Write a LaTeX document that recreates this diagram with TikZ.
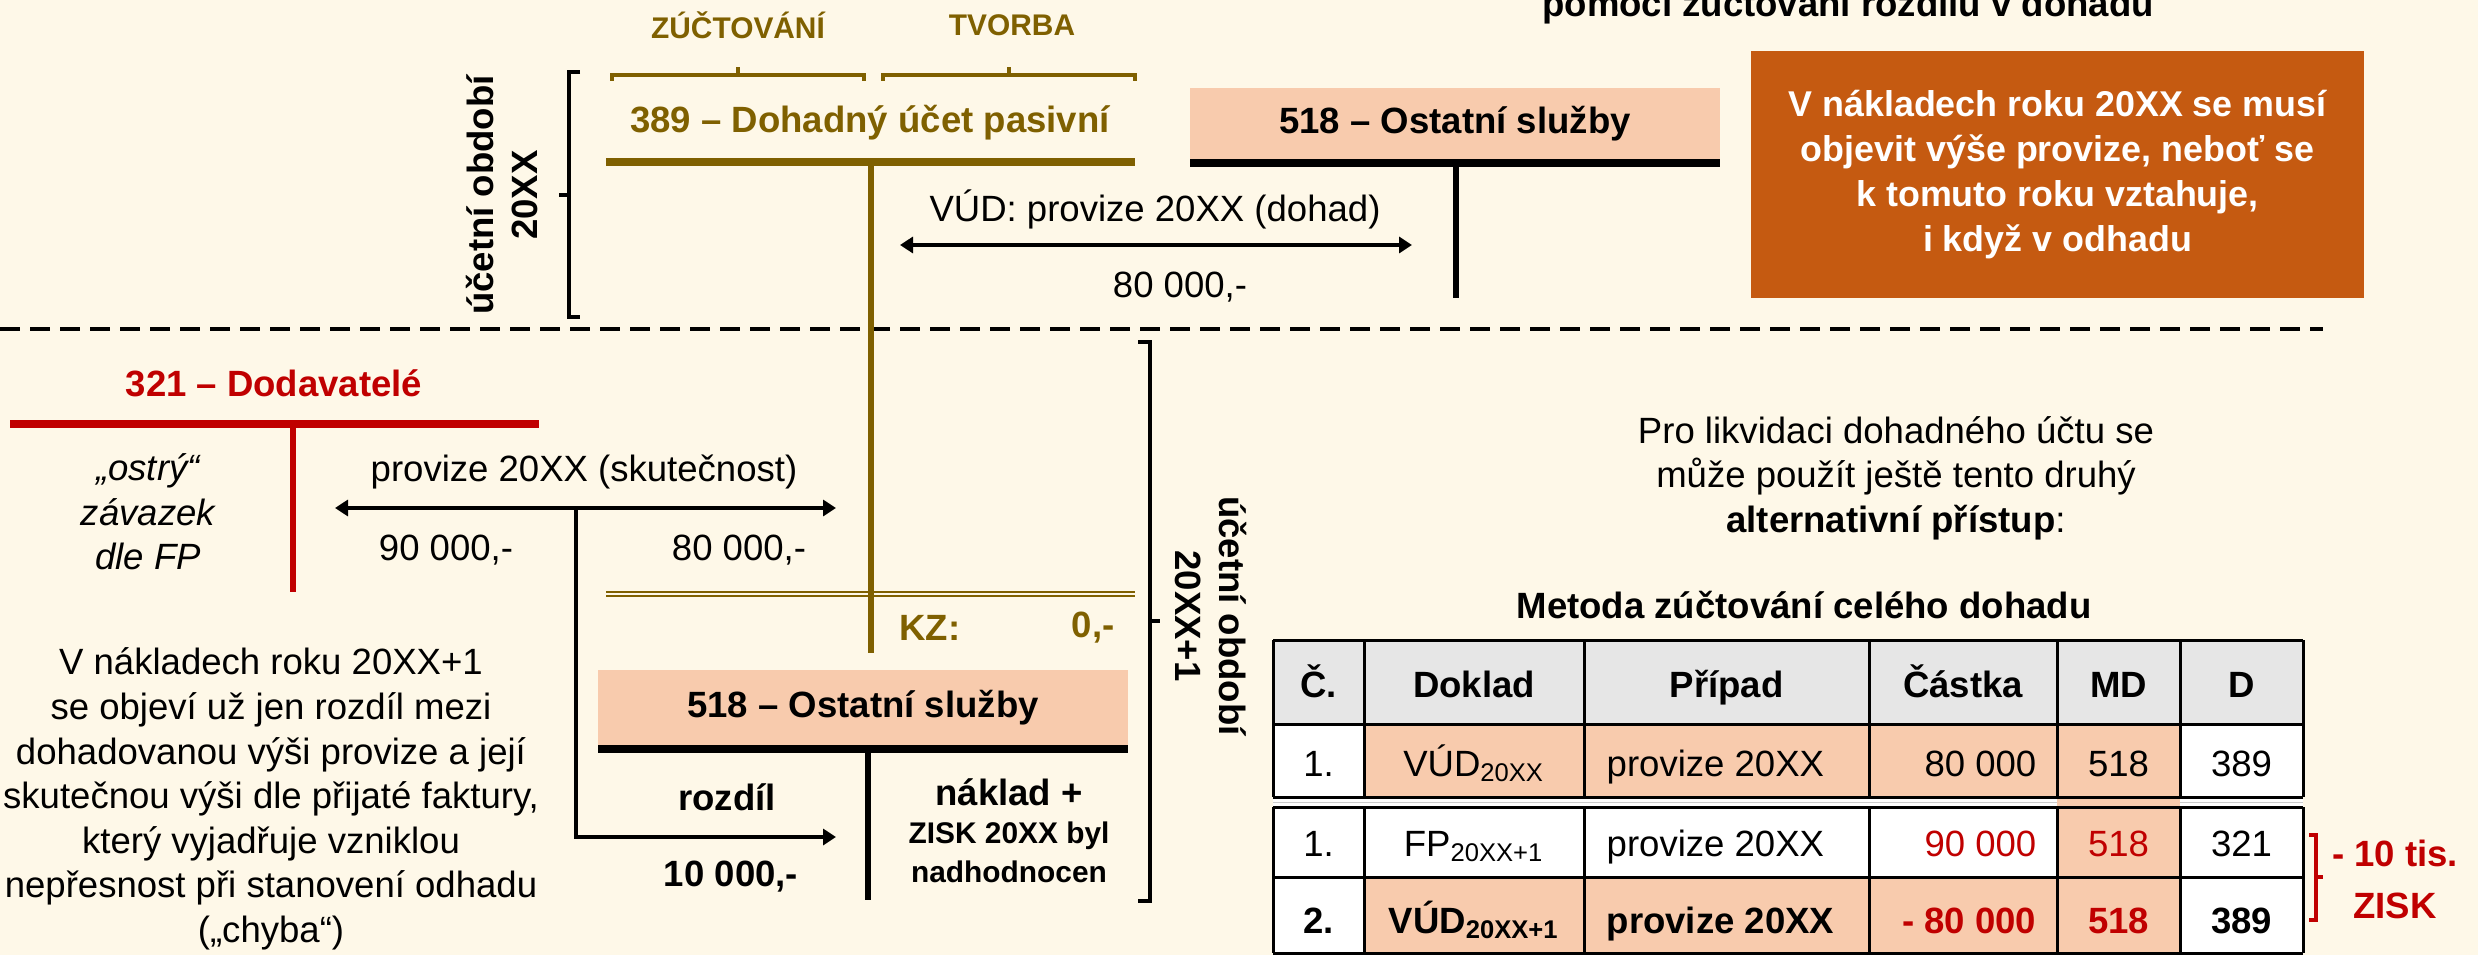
\documentclass[tikz,border=0pt]{standalone}
\usepackage{fontspec}
\setmainfont{Liberation Sans}
\usetikzlibrary{arrows.meta}

\definecolor{cream}{HTML}{FEF8E8}
\definecolor{olive}{HTML}{7F6000}
\definecolor{accred}{HTML}{C00000}
\definecolor{peach}{HTML}{F8CBAD}
\definecolor{rust}{HTML}{C55A11}
\definecolor{hdgray}{HTML}{E6E6E6}

\tikzset{
  txt/.style={inner sep=0pt, align=center, font=\fontsize{10.4}{12.7}\selectfont},
  btxt/.style={inner sep=0pt, align=center, font=\fontsize{10.4}{12.7}\selectfont\bfseries},
  itxt/.style={inner sep=0pt, align=center, font=\fontsize{10.4}{12.7}\selectfont\itshape},
  stxt/.style={inner sep=0pt, align=center, font=\fontsize{8.5}{11}\selectfont\bfseries},
  tbar/.style={line width=0.8mm},
  tstem/.style={line width=0.6mm},
  arr/.style={line width=0.4mm},
  brk/.style={line width=0.4mm},
  tabline/.style={line width=0.3mm},
}

\begin{document}
\begin{tikzpicture}[x=0.1mm, y=-0.1mm, >={Triangle[length=1.3mm,width=1.6mm]}]
	\fill[cream] (0,0) rectangle (2478,955);
	\useasboundingbox (0,0) rectangle (2478,955);
	
	\node[btxt, anchor=base] (title) at (1848,17) {pomocí zúčtování rozdílu v dohadu};
	
	\node[fill=rust, text=white, btxt, font=\fontsize{10.2}{12.8}\selectfont\bfseries, minimum width=61.3mm, minimum height=24.7mm] (note) at (2057.5,174.5) {V nákladech roku 20XX se musí\\objevit výše provize, neboť se\\k tomuto roku vztahuje,\\i když v odhadu};
	
	\node[stxt, text=olive] (zuct) at (738,25) {ZÚČTOVÁNÍ};
	\node[stxt, text=olive] (tvor) at (1012,25) {TVORBA};
	\draw[brk, olive] (612,81) -- (612,75) -- (864,75) -- (864,81) (738,75) -- (738,67);
	\draw[brk, olive] (883,81) -- (883,75) -- (1135,75) -- (1135,81) (1009,75) -- (1009,67);
	
	\node[btxt, text=olive] (n389) at (870,123) {389 – Dohadný účet pasivní};
	\draw[tbar, olive] (606,162) -- (1135,162);
	
	\node[fill=peach, btxt, minimum width=53mm, minimum height=7.1mm] (n518a) at (1455,123.5) {518 – Ostatní služby};
	\draw[tbar] (1190,163) -- (1720,163);
	\draw[tstem] (1456,167) -- (1456,298);
	
	\node[btxt, rotate=90] (per1) at (502,195) {účetní období\\20XX};
	\draw[brk] (580,72) -- (569,72) -- (569,317) -- (580,317) (569,195) -- (559,195);
	
	\coordinate (vudL) at (900,245);
	\coordinate (vudR) at (1412,245);
	\draw[arr, <->] (vudL) -- (vudR);
	\node[txt] (vudtxt) at (1155,209) {VÚD: provize 20XX (dohad)};
	\node[txt] (vudsum) at (1180,287) {80 000,-};
	
	\draw[line width=0.4mm, dash pattern=on 2mm off 1mm] (0,329) -- (2323,329);
	
	\node[btxt, text=accred] (n321) at (274,383) {321 – Dodavatelé};
	\draw[tbar, accred] (10,423.5) -- (539,423.5);
	\draw[tstem, accred] (293,427) -- (293,592);
	\node[itxt] (ostry) at (148,512) {„ostrý“\\závazek\\dle FP};
	
	\coordinate (fpL) at (335,508);
	\coordinate (fpR) at (836,508);
	\coordinate (fpM) at (576,508);
	\coordinate (rozd) at (836,837);
	\draw[arr, <->] (fpL) -- (fpR);
	\draw[arr, ->] (fpM) |- (rozd);
	\node[txt] (fptxt) at (584,472) {provize 20XX (skutečnost)};
	\node[txt] (fpsum) at (446,550) {90 000,-};
	\node[txt] (dosum) at (739,550) {80 000,-};
	
	\draw[olive, line width=0.2mm] (606,591.7) -- (1135,591.7) (606,596) -- (1135,596);
	\draw[tstem, olive] (871,166) -- (871,653);
	\node[btxt, text=olive] (kz) at (930,628) {KZ:};
	\node[btxt, text=olive] (kzsum) at (1093,628) {0,-};
	
	\node[btxt, rotate=-90] (per2) at (1211,616) {účetní období\\20XX+1};
	\draw[brk] (1138,342) -- (1150,342) -- (1150,901) -- (1138,901) (1150,621) -- (1160,621);
	
	\node[fill=peach, btxt, minimum width=53mm, minimum height=7.5mm] (n518b) at (863,707.5) {518 – Ostatní služby};
	\draw[tbar] (598,748.5) -- (1128,748.5);
	\draw[tstem] (868,752) -- (868,900);
	\node[btxt] (rozdil) at (727,797) {rozdíl};
	\node[btxt] (rozsum) at (731,877) {10 000,-};
	\node[btxt] (naklad) at (1009,792) {náklad +};
	\node[stxt] (zisk) at (1009,852) {ZISK 20XX byl\\nadhodnocen};
	
	\node[txt] (vysv) at (271,799) {V nákladech roku 20XX+1\\se objeví už jen rozdíl mezi\\dohadovanou výši provize a její\\skutečnou výši dle přijaté faktury,\\který vyjadřuje vzniklou\\nepřesnost při stanovení odhadu\\(„chyba“)};
	
	\node[txt] (alt) at (1896,478) {Pro likvidaci dohadného účtu se\\může použít ještě tento druhý\\\textbf{alternativní přístup}:};
	\node[btxt] (metoda) at (1804,605) {Metoda zúčtování celého dohadu};
	
	\fill[hdgray] (1273,640) rectangle (2303,724);
	\fill[white] (1273,724) rectangle (2303,953);
	\fill[peach] (1364,724) rectangle (2180,797);
	\fill[peach] (2057,797) rectangle (2180,877);
	\fill[peach] (1364,877) rectangle (2180,953);
	\draw[gray!40, line width=0.1mm] (1273,802) -- (2057,802) (2180,802) -- (2303,802);
	\foreach \x in {1273,1364,1584,1869,2057,2180,2303} {
		\draw[tabline] (\x,640) -- (\x,797);
		\draw[tabline] (\x,807) -- (\x,953);
	}
	\foreach \y in {640,724,797,807,877,953}
		\draw[tabline] (1273,\y) -- (2303,\y);
	
	\foreach \x/\t [count=\i] in {1318.5/Č.,1474/Doklad,1726.5/Případ,1963/Částka,2118.5/MD,2241.5/D}
		\node[btxt, anchor=base] (hd\i) at (\x,697) {\t};
	
	\node[txt, anchor=base] (r1c) at (1318.5,776) {1.};
	\node[txt, anchor=base] (r1d) at (1474,776) {VÚD\textsubscript{20XX}};
	\node[txt, anchor=base west] (r1p) at (1606,776) {provize 20XX};
	\node[txt, anchor=base east] (r1s) at (2037,776) {80 000};
	\node[txt, anchor=base] (r1m) at (2118.5,776) {518};
	\node[txt, anchor=base] (r1a) at (2241.5,776) {389};
	
	\node[txt, anchor=base] (r2c) at (1318.5,856) {1.};
	\node[txt, anchor=base] (r2d) at (1474,856) {FP\textsubscript{20XX+1}};
	\node[txt, anchor=base west] (r2p) at (1606,856) {provize 20XX};
	\node[txt, anchor=base east, text=accred] (r2s) at (2037,856) {90 000};
	\node[txt, anchor=base, text=accred] (r2m) at (2118.5,856) {518};
	\node[txt, anchor=base] (r2a) at (2241.5,856) {321};
	
	\node[btxt, anchor=base] (r3c) at (1318.5,933) {2.};
	\node[btxt, anchor=base] (r3d) at (1474,933) {VÚD\textsubscript{20XX+1}};
	\node[btxt, anchor=base west] (r3p) at (1606,933) {provize 20XX};
	\node[btxt, anchor=base east, text=accred] (r3s) at (2037,933) {- 80 000};
	\node[btxt, anchor=base, text=accred] (r3m) at (2118.5,933) {518};
	\node[btxt, anchor=base] (r3a) at (2241.5,933) {389};
	
	\draw[brk, accred] (2309,835) -- (2316,835) -- (2316,920) -- (2309,920) (2316,877) -- (2323,877);
	\node[btxt, text=accred, font=\fontsize{10.4}{14.8}\selectfont\bfseries] (zisk10) at (2395,879) {- 10 tis.\\ZISK};
\end{tikzpicture}
\end{document}
